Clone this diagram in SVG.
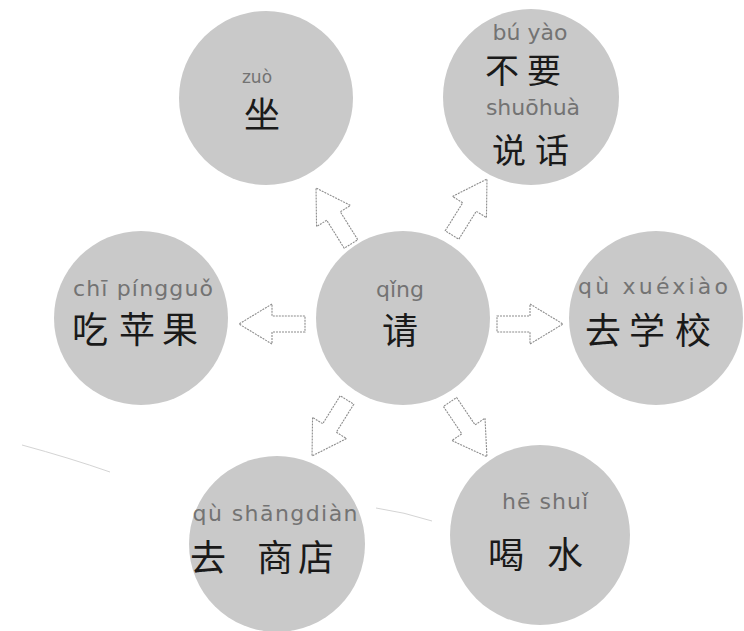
<svg xmlns="http://www.w3.org/2000/svg" width="744" height="631" viewBox="0 0 744 631">
<style>
.bg{fill:#ffffff}
.node circle{fill:#c9c9c9}
.py{font-family:"DejaVu Sans","Liberation Sans",sans-serif;font-size:22px;fill:#737373;text-anchor:middle}
.hz{font-family:"Noto Sans CJK SC",sans-serif;font-size:36px;fill:#1a1a1a;text-anchor:middle}
.arrow{fill:#ffffff;stroke:#8c8c8c;stroke-width:1.1;stroke-dasharray:2 1}
.scratch{fill:none;stroke:#d4d4d4;stroke-width:1}
</style>
<defs>
<path id="arr" d="M0,-8 L33,-8 L33,-20 L66,0 L33,20 L33,8 L0,8 Z"/>
</defs>
<rect class="bg" x="0" y="0" width="744" height="631"/>
<path class="scratch" d="M22,445 Q70,458 110,472"/>
<path class="scratch" d="M265,490 Q300,500 335,508"/>
<path class="scratch" d="M376,508 Q404,512 432,521"/>

<g id="center" class="node">
<circle cx="403" cy="318" r="87"/>
<text class="py" x="400" y="297">qǐng</text>
<text class="hz" x="400" y="344">请</text>
</g>

<g id="zuo" class="node">
<circle cx="266" cy="98" r="87"/>
<text class="py" x="257" y="83" style="font-size:17px">zuò</text>
<text class="hz" x="262" y="128">坐</text>
</g>

<g id="buyao" class="node">
<circle cx="531" cy="97" r="88"/>
<text class="py" x="530" y="40">bú yào</text>
<text class="hz" x="502 544" y="83" style="font-size:34px">不要</text>
<text class="py" x="533" y="115">shuōhuà</text>
<text class="hz" x="509 552" y="163" style="font-size:34px">说话</text>
</g>

<g id="chi" class="node">
<circle cx="141" cy="318" r="87"/>
<text class="py" x="143" y="296" textLength="140" lengthAdjust="spacing">chī píngguǒ</text>
<text class="hz" x="90 137 180" y="343">吃苹果</text>
</g>

<g id="quxuexiao" class="node">
<circle cx="656" cy="318" r="87"/>
<text class="py" x="653" y="294" textLength="150" lengthAdjust="spacing">qù xuéxiào</text>
<text class="hz" x="603 647 693" y="344">去学校</text>
</g>

<g id="qushangdian" class="node">
<circle cx="277" cy="544" r="88"/>
<text class="py" x="275" y="521" textLength="165" lengthAdjust="spacing">qù shāngdiàn</text>
<text class="hz" x="208 275 316" y="571">去商店</text>
</g>

<g id="heshui" class="node">
<circle cx="540" cy="535" r="90"/>
<text class="py" x="545" y="509" textLength="86" lengthAdjust="spacing">hē shuǐ</text>
<text class="hz" x="506 565" y="568">喝水</text>
</g>

<g id="connectors">
<use href="#arr" class="arrow" transform="translate(351,244) rotate(-122)"/>
<use href="#arr" class="arrow" transform="translate(452,235) rotate(-58)"/>
<use href="#arr" class="arrow" transform="translate(305,324) rotate(180)"/>
<use href="#arr" class="arrow" transform="translate(497,324)"/>
<use href="#arr" class="arrow" transform="translate(347,400) rotate(122)"/>
<use href="#arr" class="arrow" transform="translate(450,402) rotate(56)"/>
</g>
</svg>
